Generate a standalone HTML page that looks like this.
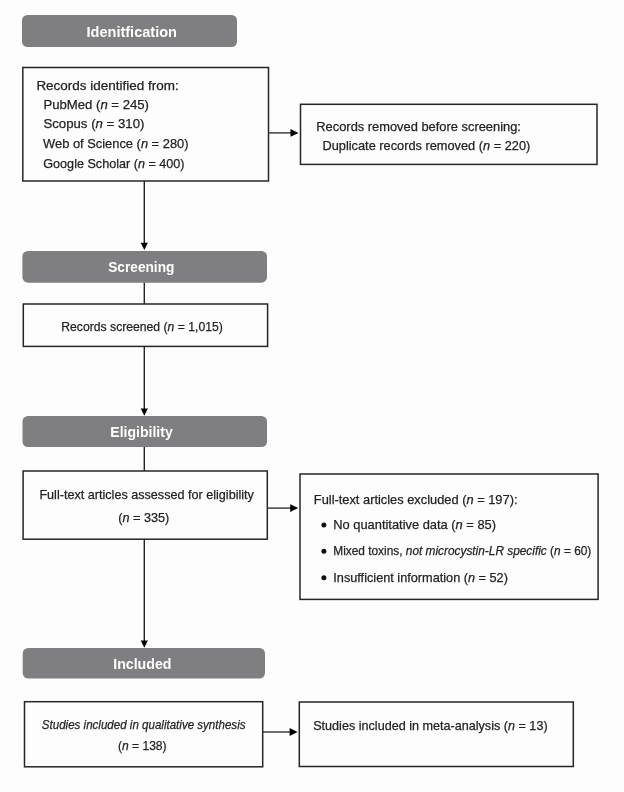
<!DOCTYPE html>
<html><head><meta charset="utf-8"><style>
html,body{margin:0;padding:0;background:#fdfdfd;width:624px;height:792px;overflow:hidden}
svg{display:block;will-change:transform}
.t{font-family:"Liberation Sans",sans-serif;font-size:13.4px;fill:#222;stroke:#222;stroke-width:0.25px}
.i{font-style:italic}
.hb{font-family:"Liberation Sans",sans-serif;font-size:14.6px;font-weight:bold;fill:#fff}
</style></head><body>
<svg width="624" height="792" viewBox="0 0 624 792">
<rect x="22" y="15" width="215" height="32" rx="5.5" ry="5.5" fill="#7f7f81"/>
<text x="86.5" y="36.9" class="hb" textLength="90.5" lengthAdjust="spacingAndGlyphs">Idenitfication</text>
<rect x="22.4" y="251" width="244.6" height="31.7" rx="5.5" ry="5.5" fill="#7f7f81"/>
<text x="108.2" y="272.2" class="hb" textLength="66.2" lengthAdjust="spacingAndGlyphs">Screening</text>
<rect x="22.5" y="416" width="244.5" height="31" rx="5.5" ry="5.5" fill="#7f7f81"/>
<text x="110.3" y="436.5" class="hb" textLength="62.4" lengthAdjust="spacingAndGlyphs">Eligibility</text>
<rect x="22.7" y="648" width="242.3" height="30.5" rx="5.5" ry="5.5" fill="#7f7f81"/>
<text x="113.2" y="668.5" class="hb" textLength="58.3" lengthAdjust="spacingAndGlyphs">Included</text>
<rect x="22.8" y="67.5" width="245.7" height="113.5" fill="none" stroke="#262626" stroke-width="1.5"/>
<rect x="300.5" y="104.3" width="296.5" height="60.1" fill="none" stroke="#262626" stroke-width="1.5"/>
<rect x="23.3" y="304" width="244.3" height="42.4" fill="none" stroke="#262626" stroke-width="1.5"/>
<rect x="23.1" y="471" width="244.2" height="68.2" fill="none" stroke="#262626" stroke-width="1.5"/>
<rect x="300" y="474" width="298.1" height="125.4" fill="none" stroke="#262626" stroke-width="1.5"/>
<rect x="24.5" y="701.7" width="238.2" height="65.1" fill="none" stroke="#262626" stroke-width="1.5"/>
<rect x="299.3" y="702" width="274" height="64.5" fill="none" stroke="#262626" stroke-width="1.5"/>
<line x1="144.3" y1="181" x2="144.3" y2="244" stroke="#222" stroke-width="1.4"/>
<polygon points="140.7,242.8 147.9,242.8 144.3,250" fill="#000"/>
<line x1="144.3" y1="282.7" x2="144.3" y2="304" stroke="#222" stroke-width="1.4"/>
<line x1="144.3" y1="346.4" x2="144.3" y2="409.8" stroke="#222" stroke-width="1.4"/>
<polygon points="140.7,408.6 147.9,408.6 144.3,415.8" fill="#000"/>
<line x1="144.3" y1="447" x2="144.3" y2="471" stroke="#222" stroke-width="1.4"/>
<line x1="144.3" y1="539.2" x2="144.3" y2="641.8" stroke="#222" stroke-width="1.4"/>
<polygon points="140.7,640.6 147.9,640.6 144.3,647.8" fill="#000"/>
<line x1="268.5" y1="132.9" x2="292.5" y2="132.9" stroke="#333" stroke-width="1.4"/>
<polygon points="290.5,129 290.5,136.8 298.5,132.9" fill="#000"/>
<line x1="267.3" y1="508.1" x2="292.2" y2="508.1" stroke="#333" stroke-width="1.4"/>
<polygon points="290.2,504.2 290.2,512 298.2,508.1" fill="#000"/>
<line x1="262.7" y1="732" x2="291.6" y2="732" stroke="#333" stroke-width="1.4"/>
<polygon points="289.6,728.1 289.6,735.9 297.6,732" fill="#000"/>
<text x="36.4" y="89.5" class="t" textLength="142.3" lengthAdjust="spacingAndGlyphs">Records identified from:</text>
<text x="43.4" y="108.5" class="t" textLength="105.6" lengthAdjust="spacingAndGlyphs">PubMed (<tspan class="i">n</tspan> = 245)</text>
<text x="43.4" y="128" class="t" textLength="101" lengthAdjust="spacingAndGlyphs">Scopus (<tspan class="i">n</tspan> = 310)</text>
<text x="43.1" y="148.2" class="t" textLength="145.4" lengthAdjust="spacingAndGlyphs">Web of Science (<tspan class="i">n</tspan> = 280)</text>
<text x="43.3" y="167.8" class="t" textLength="141.2" lengthAdjust="spacingAndGlyphs">Google Scholar (<tspan class="i">n</tspan> = 400)</text>
<text x="316.3" y="130.6" class="t" textLength="204.6" lengthAdjust="spacingAndGlyphs">Records removed before screening:</text>
<text x="322.5" y="149.6" class="t" textLength="207.8" lengthAdjust="spacingAndGlyphs">Duplicate records removed (<tspan class="i">n</tspan> = 220)</text>
<text x="61.3" y="330.6" class="t" textLength="161.5" lengthAdjust="spacingAndGlyphs">Records screened (<tspan class="i">n</tspan> = 1,015)</text>
<text x="39.4" y="498.5" class="t" textLength="214.5" lengthAdjust="spacingAndGlyphs">Full-text articles assessed for eligibility</text>
<text x="118.3" y="521.6" class="t" textLength="51" lengthAdjust="spacingAndGlyphs">(<tspan class="i">n</tspan> = 335)</text>
<text x="313.8" y="504" class="t" textLength="203.7" lengthAdjust="spacingAndGlyphs">Full-text articles excluded (<tspan class="i">n</tspan> = 197):</text>
<circle cx="323.9" cy="524.9" r="2.5" fill="#111"/>
<text x="333.3" y="528.9" class="t" textLength="162.7" lengthAdjust="spacingAndGlyphs">No quantitative data (<tspan class="i">n</tspan> = 85)</text>
<circle cx="323.9" cy="551.3" r="2.5" fill="#111"/>
<text x="333.3" y="555.3" class="t" textLength="258" lengthAdjust="spacingAndGlyphs">Mixed toxins, <tspan class="i">not microcystin-LR specific</tspan> (<tspan class="i">n</tspan> = 60)</text>
<circle cx="323.9" cy="577.8" r="2.5" fill="#111"/>
<text x="333.3" y="581.8" class="t" textLength="174.6" lengthAdjust="spacingAndGlyphs">Insufficient information (<tspan class="i">n</tspan> = 52)</text>
<text x="41.8" y="729.3" class="t i" textLength="203.7" lengthAdjust="spacingAndGlyphs">Studies included in qualitative synthesis</text>
<text x="117.9" y="749.6" class="t" textLength="48.7" lengthAdjust="spacingAndGlyphs">(<tspan class="i">n</tspan> = 138)</text>
<text x="313.2" y="729.8" class="t" textLength="234.4" lengthAdjust="spacingAndGlyphs">Studies included in meta-analysis (<tspan class="i">n</tspan> = 13)</text>
</svg>
</body></html>
